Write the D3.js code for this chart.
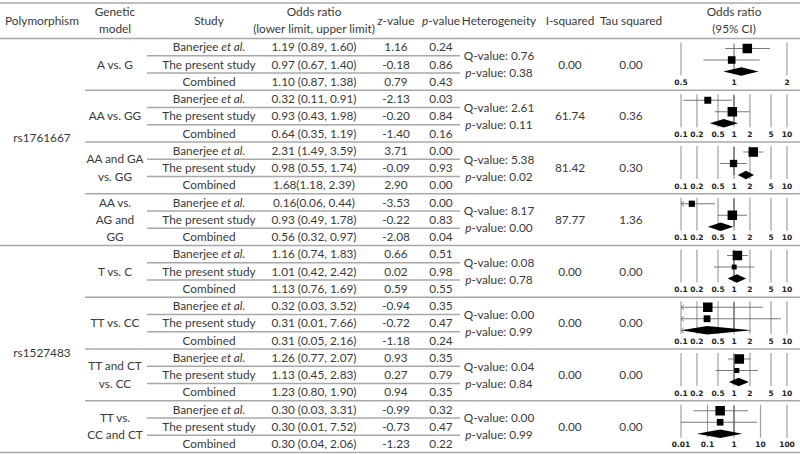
<!DOCTYPE html>
<html>
<head>
<meta charset="utf-8">
<script src="https://cdn.jsdelivr.net/npm/d3@7"></script>
<style>
    body { margin: 0; background: #fff; }
    text { font-family: Lato, "Open Sans", sans-serif; fill: #3a3a3a; }
    .tick-label { font-family: "DejaVu Sans", sans-serif; font-weight: bold; fill: #222; }
</style>
</head>
<body>
<svg id="chart"></svg>
<script>
// Table data, one entry per genetic model
const polymorphisms = ["rs1761667", "rs1527483"];
const geneticModels = [
    ["A vs. G"], ["AA vs. GG"], ["AA and GA", "vs. GG"], ["AA vs.", "AG and", "GG"],
    ["T vs. C"], ["TT vs. CC"], ["TT and CT", "vs. CC"], ["TT vs.", "CC and CT"]
];
const studies = ["Banerjee", "The present study", "Combined"];
const oddsRatios = [
    ["1.19 (0.89, 1.60)", "0.97 (0.67, 1.40)", "1.10 (0.87, 1.38)"],
    ["0.32 (0.11, 0.91)", "0.93 (0.43, 1.98)", "0.64 (0.35, 1.19)"],
    ["2.31 (1.49, 3.59)", "0.98 (0.55, 1.74)", "1.68(1.18, 2.39)"],
    ["0.16(0.06, 0.44)", "0.93 (0.49, 1.78)", "0.56 (0.32, 0.97)"],
    ["1.16 (0.74, 1.83)", "1.01 (0.42, 2.42)", "1.13 (0.76, 1.69)"],
    ["0.32 (0.03, 3.52)", "0.31 (0.01, 7.66)", "0.31 (0.05, 2.16)"],
    ["1.26 (0.77, 2.07)", "1.13 (0.45, 2.83)", "1.23 (0.80, 1.90)"],
    ["0.30 (0.03, 3.31)", "0.30 (0.01, 7.52)", "0.30 (0.04, 2.06)"]
];
const zValues = [
    ["1.16", "-0.18", "0.79"], ["-2.13", "-0.20", "-1.40"], ["3.71", "-0.09", "2.90"], ["-3.53", "-0.22", "-2.08"],
    ["0.66", "0.02", "0.59"], ["-0.94", "-0.72", "-1.18"], ["0.93", "0.27", "0.94"], ["-0.99", "-0.73", "-1.23"]
];
const pValues = [
    ["0.24", "0.86", "0.43"], ["0.03", "0.84", "0.16"], ["0.00", "0.93", "0.00"], ["0.00", "0.83", "0.04"],
    ["0.51", "0.98", "0.55"], ["0.35", "0.47", "0.24"], ["0.35", "0.79", "0.35"], ["0.32", "0.47", "0.22"]
];
const qValues = ["0.76", "2.61", "5.38", "8.17", "0.08", "0.00", "0.04", "0.00"];
const qPValues = ["0.38", "0.11", "0.02", "0.00", "0.78", "0.99", "0.84", "0.99"];
const iSquared = ["0.00", "61.74", "81.42", "87.77", "0.00", "0.00", "0.00", "0.00"];
const tauSquared = ["0.00", "0.36", "0.30", "1.36", "0.00", "0.00", "0.00", "0.00"];
// study weights (%)
const studyWeights = [[61, 39], [35, 65], [63, 37], [30, 70], [79, 21], [66, 34], [78, 22], [67, 33]];
const ticksA = [0.5, 1, 2];
const ticksB = [0.1, 0.2, 0.5, 1, 2, 5, 10];
const ticksC = [0.01, 0.1, 1, 10, 100];
const forestTicks = [ticksA, ticksB, ticksB, ticksB, ticksB, ticksB, ticksB, ticksC];

// Layout
const width = 800, height = 454;
const topY = 3, headY = 38.5, rowH = 17.25, groupH = rowH * 3;
const col = { poly: 42, model: 115, study: 209, or: 314, z: 396, p: 441, het: 499, i2: 570, tau: 631, plot: 734 };
const polyShift = [-4.5, 3.5];
const plot = { x0: 681, x1: 787, rows: [10, 21.5, 33], label: 44, gridTop: 4, gridBottom: 37, maxSquare: 9.5 };
const lineColor = "#a8a8a8";

const groupTop = g => headY + g * groupH;
const rowY = (g, r) => groupTop(g) + (r + 0.5) * rowH;
const parseOR = s => s.match(/[\d.]+/g).map(Number);

const svg = d3.select("#chart").attr("width", width).attr("height", height);

const lines = svg.append("g");
const texts = svg.append("g").attr("font-size", 11.8);
const plots = svg.append("g");

const hline = (x1, x2, y) => lines.append("line")
    .attr("x1", x1).attr("x2", x2).attr("y1", y).attr("y2", y)
    .attr("stroke", lineColor).attr("stroke-width", 1.3);

const label = (x, y, str) => texts.append("text")
    .attr("x", x).attr("y", y).attr("dy", "0.35em")
    .attr("text-anchor", "middle").text(str);

// Horizontal rules
hline(0, width, topY);
hline(0, width, headY);
geneticModels.forEach((m, g) => {
    const bottom = groupTop(g + 1);
    hline(g === 3 || g === 7 ? 0 : 85, width, bottom);
    hline(147, 460, groupTop(g) + rowH);
    hline(147, 460, groupTop(g) + rowH * 2);
});

// Header
label(col.poly, 20.5, "Polymorphism");
label(col.model, 12, "Genetic");
label(col.model, 28.5, "model");
label(col.study, 20.5, "Study");
label(col.or, 12, "Odds ratio");
label(col.or, 28.5, "(lower limit, upper limit)");
const zHead = label(col.z, 20.5, "");
zHead.append("tspan").attr("font-style", "italic").text("z");
zHead.append("tspan").text("-value");
const pHead = label(col.p, 20.5, "");
pHead.append("tspan").attr("font-style", "italic").text("p");
pHead.append("tspan").text("-value");
label(col.het, 20.5, "Heterogeneity");
label(col.i2, 20.5, "I-squared");
label(col.tau, 20.5, "Tau squared");
label(col.plot, 12, "Odds ratio");
label(col.plot, 28.5, "(95% CI)");

// Polymorphism cells span four genetic models each
polymorphisms.forEach((p, i) => label(col.poly, headY + (i * 4 + 2) * groupH + polyShift[i], p));

// Body rows
geneticModels.forEach((m, g) => {
    const mid = groupTop(g) + groupH / 2;
    m.forEach((t, k) => label(col.model, mid + (k - (m.length - 1) / 2) * rowH, t));

    studies.forEach((s, r) => {
        const y = rowY(g, r);
        const st = label(col.study, y, s);
        if (r === 0) st.append("tspan").attr("font-style", "italic").text(" et al.");
        label(col.or, y, oddsRatios[g][r]);
        label(col.z, y, zValues[g][r]);
        label(col.p, y, pValues[g][r]);
    });

    label(col.het, mid - 8.5, "Q-value: " + qValues[g]);
    const ph = label(col.het, mid + 8.5, "");
    ph.append("tspan").attr("font-style", "italic").text("p");
    ph.append("tspan").text("-value: " + qPValues[g]);
    label(col.i2, mid, iSquared[g]);
    label(col.tau, mid, tauSquared[g]);
});

// Forest plots
geneticModels.forEach((m, g) => {
    const ticks = forestTicks[g];
    const x = d3.scaleLog().domain([ticks[0], ticks[ticks.length - 1]]).range([plot.x0, plot.x1]);
    const [lo, hi] = x.domain();
    const top = groupTop(g);
    const fp = plots.append("g");

    fp.selectAll(".grid").data(ticks.filter(t => !(ticks === ticksA && t === 1)))
        .enter().append("line")
        .attr("x1", d => x(d)).attr("x2", d => x(d))
        .attr("y1", top + plot.gridTop).attr("y2", top + plot.gridBottom)
        .attr("stroke", "#a0a0a0").attr("stroke-width", 1.2);

    // reference line at OR = 1
    fp.append("line")
        .attr("x1", x(1)).attr("x2", x(1))
        .attr("y1", top + plot.rows[0] - 5).attr("y2", top + plot.rows[2])
        .attr("stroke", "#333").attr("stroke-width", 0.8);

    fp.selectAll(".tick-label").data(ticks)
        .enter().append("text")
        .attr("class", "tick-label")
        .attr("x", d => x(d)).attr("y", top + plot.label).attr("dy", "0.35em")
        .attr("text-anchor", "middle").attr("font-size", 7.5)
        .text(d => d);

    const maxW = d3.max(studyWeights[g]);
    const side = d3.scaleSqrt().domain([0, maxW]).range([0, plot.maxSquare]);

    oddsRatios[g].forEach((s, r) => {
        const [est, l, u] = parseOR(s);
        const y = top + plot.rows[r];
        const xl = x(Math.max(l, lo)), xu = x(Math.min(u, hi));
        if (r < 2) {
            fp.append("line")
                .attr("x1", xl).attr("x2", xu).attr("y1", y).attr("y2", y)
                .attr("stroke", "#6a6a6a").attr("stroke-width", 0.9);
            const sz = side(studyWeights[g][r]);
            fp.append("rect")
                .attr("x", x(est) - sz / 2).attr("y", y - sz / 2)
                .attr("width", sz).attr("height", sz).attr("fill", "#000");
        } else {
            fp.append("path")
                .attr("d", `M${xl},${y}L${x(est)},${y - 4.2}L${xu},${y}L${x(est)},${y + 4.2}Z`)
                .attr("fill", "#000");
        }
        if (l < lo) {
            fp.append("path")
                .attr("d", `M${xl + 3},${y - 2.5}L${xl},${y}L${xl + 3},${y + 2.5}`)
                .attr("fill", "none").attr("stroke", "#6a6a6a").attr("stroke-width", 0.8);
        }
    });
});
</script>
</body>
</html>
